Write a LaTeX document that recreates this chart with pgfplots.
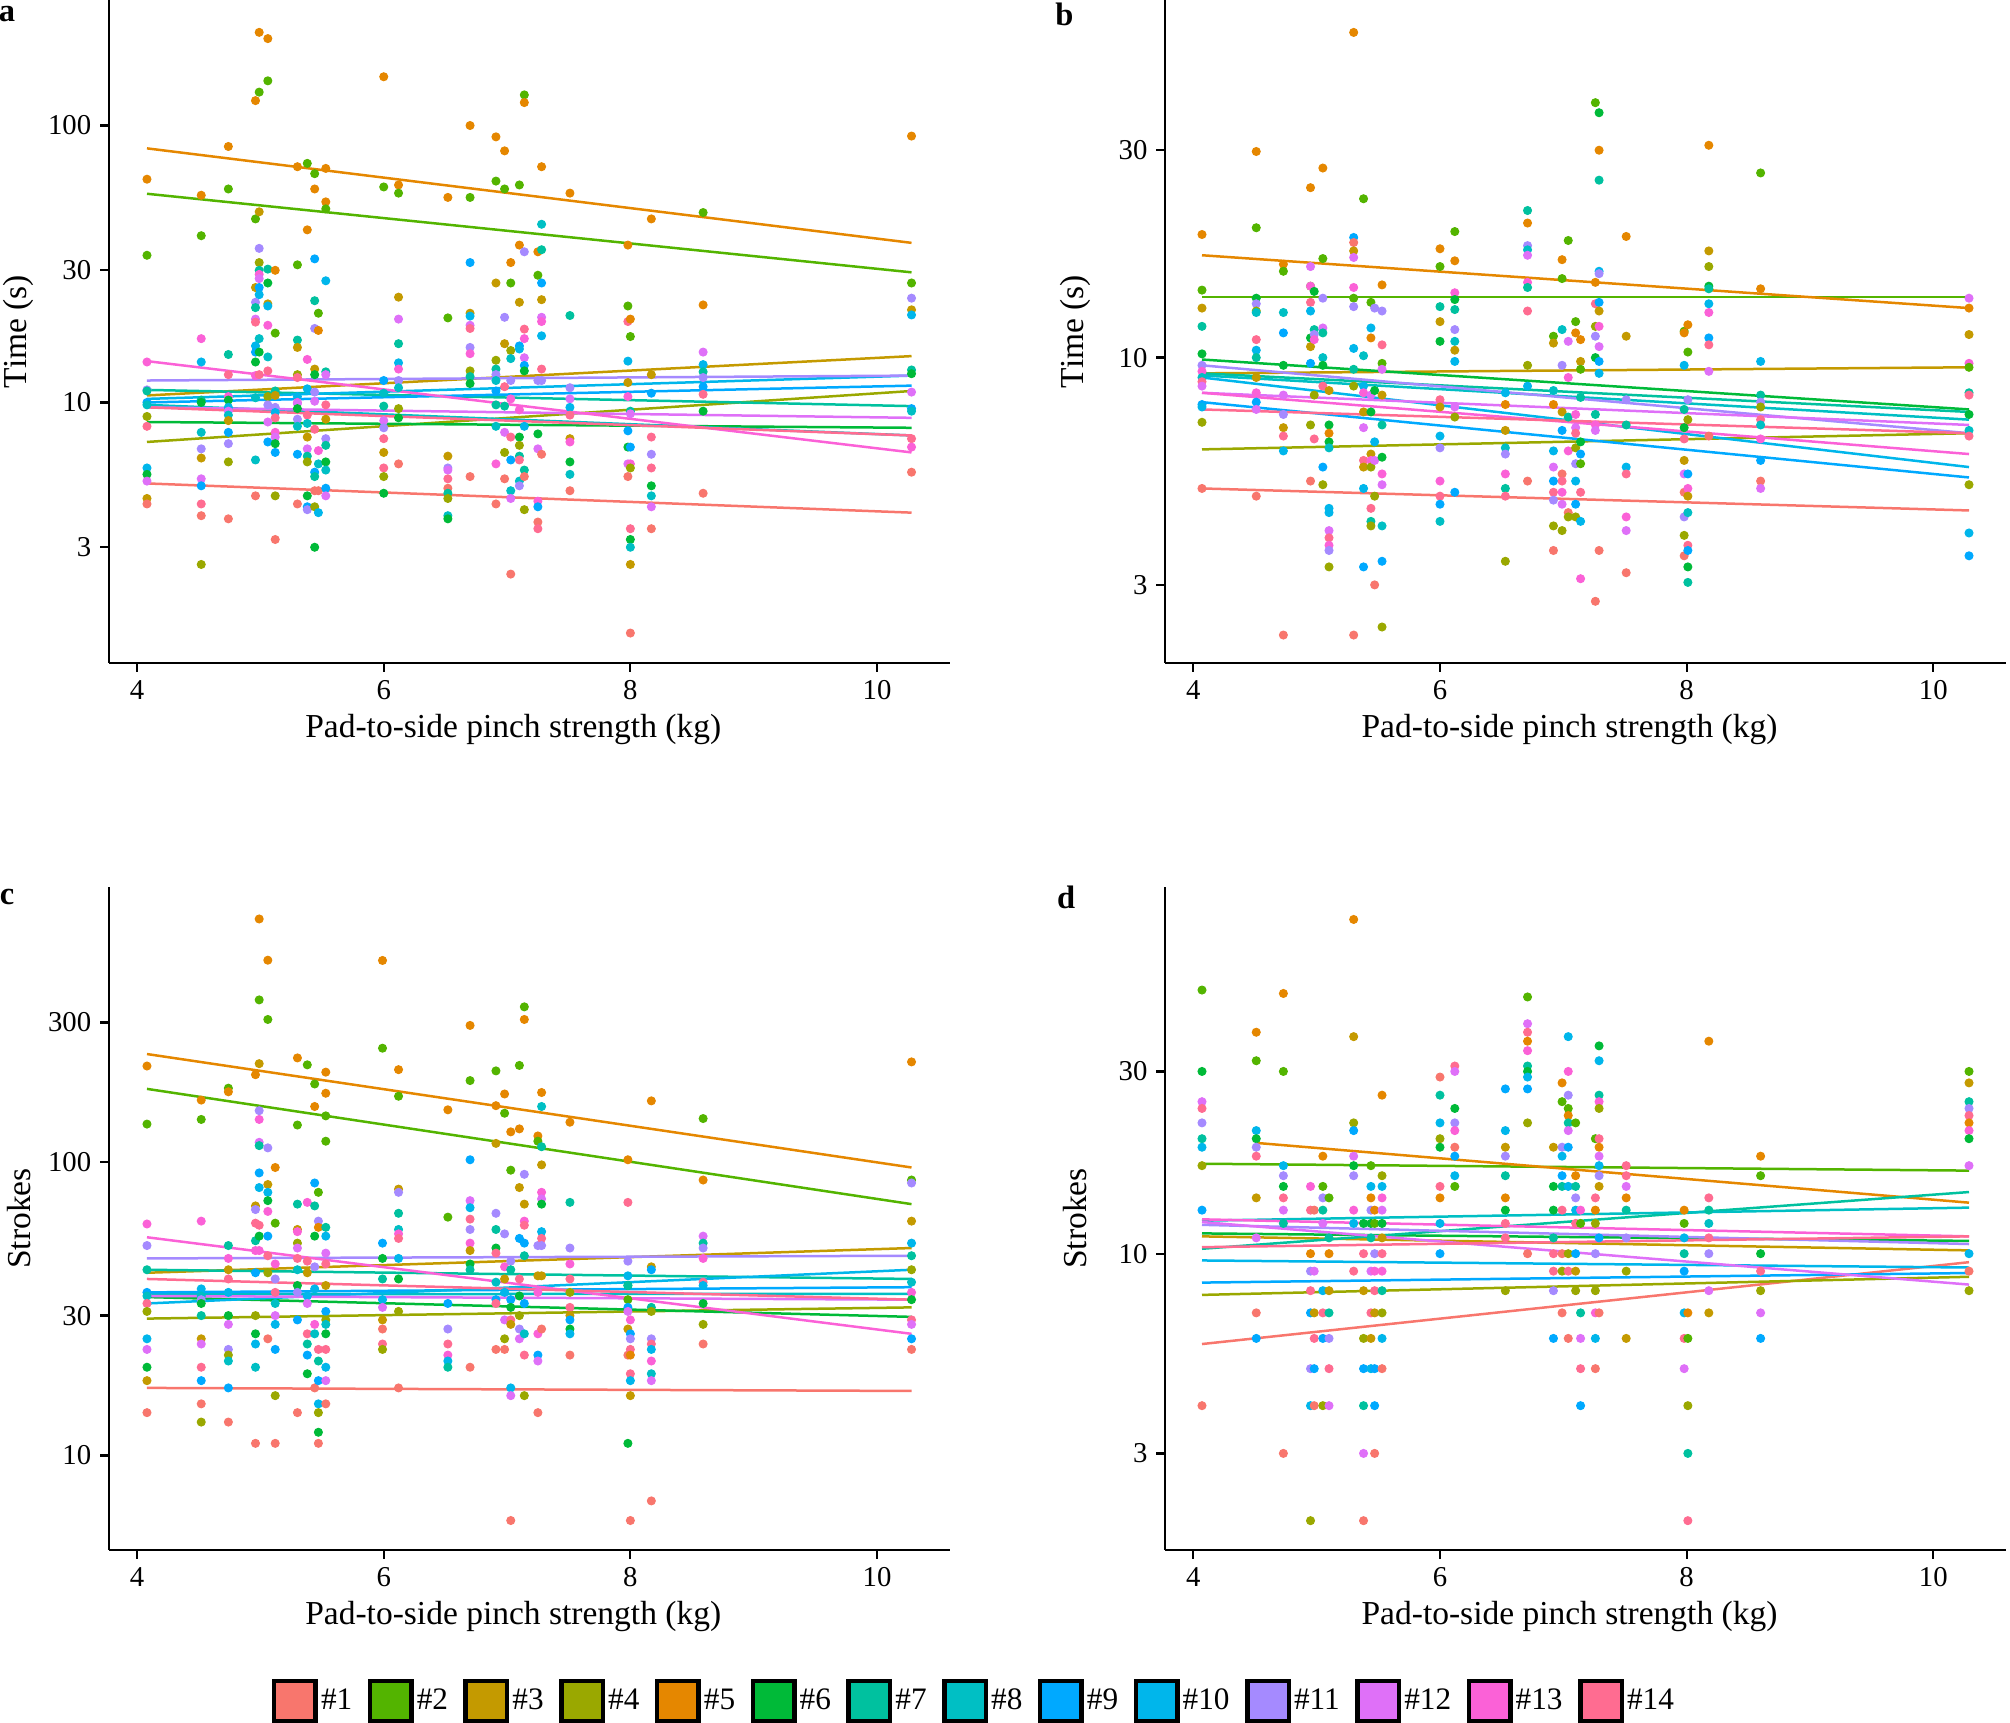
\documentclass[border=0pt]{standalone}
\usepackage{fontspec}
\setmainfont{Liberation Serif}
\usepackage{pgfplots}
\pgfplotsset{compat=1.18}
\definecolor{P1}{HTML}{F8766D}
\definecolor{P2}{HTML}{53B400}
\definecolor{P3}{HTML}{C49A00}
\definecolor{P4}{HTML}{9AA800}
\definecolor{P5}{HTML}{E58700}
\definecolor{P6}{HTML}{00BA38}
\definecolor{P7}{HTML}{00C19F}
\definecolor{P8}{HTML}{00BFC4}
\definecolor{P9}{HTML}{00A9FF}
\definecolor{P10}{HTML}{00B6EB}
\definecolor{P11}{HTML}{A58AFF}
\definecolor{P12}{HTML}{DF70F8}
\definecolor{P13}{HTML}{FB61D7}
\definecolor{P14}{HTML}{FF6C91}
\pgfplotsset{
  every axis/.append style={
    scale only axis, width=336.4pt, height=265.2pt,
    xmin=3.77, xmax=10.59,
    axis x line=bottom, axis y line=left,
    axis line style={-, line width=0.9pt, black},
    tick align=outside, major tick length=3.5pt,
    tick style={line width=0.9pt, black},
    yminorticks=false, xminorticks=false,
    xtick={4,6,8,10}, xticklabels={4,6,8,10},
    tick label style={font=\fontsize{11.5}{13}\selectfont},
    label style={font=\fontsize{13.4}{15}\selectfont},
    xlabel={Pad-to-side pinch strength (kg)},
    xlabel style={at={(axis description cs:0.481,-0.101)}, anchor=center},
    ylabel style={at={(axis description cs:-0.107,0.5)}, anchor=center},
    scatter/classes={a={P1},b={P2},c={P3},d={P4},e={P5},f={P6},g={P7},h={P8},i={P9},j={P10},k={P11},l={P12},m={P13},n={P14}},
  },
}
\newcommand{\legkey}[2]{\addlegendimage{legend image code/.code={\draw[fill=#1,draw=black,line width=1.8pt] (0pt,-8pt) rectangle (16.6pt,8pt);}}\addlegendentry{#2}}
\begin{document}
\begin{tikzpicture}
\useasboundingbox (0,0) rectangle (804pt,688.8pt);
% ---------------- panel a ----------------
\begin{axis}[ymode=log, at={(43.5pt,423.6pt)}, anchor=south west,
  ymin=1.146, ymax=284, ytick={3,10,30,100}, yticklabels={3,10,30,100}, ylabel={Time (s)}]
\addplot[scatter, only marks, mark=*, mark size=1.6pt, scatter src=explicit symbolic] table[row sep=\\, meta=c] {x y c\\
4.08 64 e\\ 4.08 34 b\\ 4.08 14 m\\ 4.08 11.1 k\\ 4.08 11 g\\ 4.08 10 i\\ 4.08 9.8 h\\ 4.08 8.9 d\\ 4.08 8.2 n\\ 4.08 5.8 j\\ 4.08 5.5 f\\ 4.08 5.2 l\\ 4.08 4.5 c\\ 4.08 4.3 a\\
4.52 56 e\\ 4.52 40 b\\ 4.52 17 m\\ 4.52 14 j\\ 4.52 10.2 g\\ 4.52 10 f\\ 4.52 7.8 h\\ 4.52 6.8 k\\ 4.52 6.3 c\\ 4.52 5.3 l\\ 4.52 5.0 i\\ 4.52 4.3 n\\ 4.52 3.9 a\\ 4.52 2.6 d\\
4.74 84 e\\ 4.74 59 b\\ 4.74 14.9 g\\ 4.74 12.6 n\\ 4.74 10.5 m\\ 4.74 10.2 f\\ 4.74 9.6 j\\ 4.74 9.3 l\\ 4.74 9.0 h\\ 4.74 8.6 c\\ 4.74 7.8 i\\ 4.74 7.1 k\\ 4.74 6.1 d\\ 4.74 3.8 a\\
4.96 123 e\\ 4.96 46 b\\ 4.96 26 c\\ 4.96 23 k\\ 4.96 22 g\\ 4.96 20 l\\ 4.96 19.5 n\\ 4.96 16 j\\ 4.96 15.2 i\\ 4.96 14 f\\ 4.96 12.5 m\\ 4.96 10.4 h\\ 4.96 6.2 h\\ 4.96 4.6 a\\
4.99 217 e\\ 4.99 132 b\\ 4.99 48.8 c\\ 4.99 36 k\\ 4.99 32 d\\ 4.99 30 g\\ 4.99 29 m\\ 4.99 28 l\\ 4.99 26 i\\ 4.99 24.5 j\\ 4.99 17 h\\ 4.99 15.2 f\\ 4.99 12.6 n\\
5.06 206 e\\ 5.06 145 b\\ 5.06 30.3 g\\ 5.06 27 f\\ 5.06 22.7 c\\ 5.06 22.3 j\\ 5.06 19 m\\ 5.06 14.6 h\\ 5.06 13 n\\ 5.06 10.5 d\\ 5.06 9.8 k\\ 5.06 8.5 l\\ 5.06 7.2 i\\
5.12 30 e\\ 5.12 17.8 b\\ 5.12 11 g\\ 5.12 10.6 c\\ 5.12 9.6 k\\ 5.12 9.2 j\\ 5.12 8.8 n\\ 5.12 7.8 m\\ 5.12 7.5 l\\ 5.12 7.1 f\\ 5.12 6.6 i\\ 5.12 4.6 d\\ 5.12 3.2 a\\
5.30 71 e\\ 5.30 31.4 b\\ 5.30 16.8 g\\ 5.30 15.8 c\\ 5.30 12.6 d\\ 5.30 12.3 n\\ 5.30 10.5 j\\ 5.30 10.0 m\\ 5.30 9.9 l\\ 5.30 9.5 f\\ 5.30 8.7 k\\ 5.30 8.2 h\\ 5.30 6.5 i\\ 5.30 4.3 a\\
5.38 73 b\\ 5.38 42 e\\ 5.38 14.3 m\\ 5.38 11.2 j\\ 5.38 9.0 n\\ 5.38 8.4 h\\ 5.38 7.5 c\\ 5.38 6.8 l\\ 5.38 6.4 g\\ 5.38 6.1 d\\ 5.38 4.6 f\\ 5.38 4.2 i\\ 5.38 4.1 k\\
5.44 67 b\\ 5.44 59 e\\ 5.44 33 i\\ 5.44 23.3 g\\ 5.44 18.5 k\\ 5.44 13.2 c\\ 5.44 12.6 f\\ 5.44 10.9 k\\ 5.44 10.1 l\\ 5.44 8.0 n\\ 5.44 5.6 i\\ 5.44 5.4 g\\ 5.44 4.8 a\\ 5.44 4.2 d\\ 5.44 3.0 f\\
5.47 21 b\\ 5.47 18.2 e\\ 5.47 6.7 m\\ 5.47 6.0 h\\ 5.47 4.8 a\\ 5.47 4.0 j\\
5.53 70 e\\ 5.53 53 e\\ 5.53 50 b\\ 5.53 27.5 j\\ 5.53 12.9 g\\ 5.53 12.6 l\\ 5.53 9.8 n\\ 5.53 8.7 c\\ 5.53 7.4 k\\ 5.53 7.0 g\\ 5.53 6.1 f\\ 5.53 5.7 h\\ 5.53 4.9 i\\ 5.53 4.6 l\\
6.00 150 e\\ 6.00 60 b\\ 6.00 12 i\\ 6.00 10.8 h\\ 6.00 9.7 g\\ 6.00 8.6 l\\ 6.00 8.1 k\\ 6.00 7.4 n\\ 6.00 6.6 c\\ 6.00 5.8 n\\ 6.00 5.4 d\\ 6.00 4.7 f\\
6.12 61 e\\ 6.12 57 b\\ 6.12 24 c\\ 6.12 20 l\\ 6.12 16.3 g\\ 6.12 13.9 j\\ 6.12 13.2 m\\ 6.12 12 k\\ 6.12 11.3 h\\ 6.12 9.5 d\\ 6.12 8.8 f\\ 6.12 6.0 a\\
6.52 55 e\\ 6.52 20.2 b\\ 6.52 6.4 c\\ 6.52 5.8 k\\ 6.52 5.7 l\\ 6.52 5.3 n\\ 6.52 4.9 a\\ 6.52 4.7 g\\ 6.52 4.5 d\\ 6.52 3.9 h\\ 6.52 3.8 f\\
6.70 100 e\\ 6.70 55 b\\ 6.70 32 i\\ 6.70 21 c\\ 6.70 20.5 j\\ 6.70 19 l\\ 6.70 18.5 n\\ 6.70 15.8 k\\ 6.70 15 m\\ 6.70 13 d\\ 6.70 12.4 g\\ 6.70 11.7 f\\ 6.70 5.4 a\\
6.91 91 e\\ 6.91 63 b\\ 6.91 27 c\\ 6.91 14.2 d\\ 6.91 13.2 g\\ 6.91 12.6 k\\ 6.91 12 h\\ 6.91 11 i\\ 6.91 9.8 g\\ 6.91 8.2 h\\ 6.91 6 m\\ 6.91 4.3 a\\
6.98 81 e\\ 6.98 59 b\\ 6.98 20.3 k\\ 6.98 16.3 c\\ 6.98 11.4 n\\ 6.98 9.7 g\\ 6.98 7.8 l\\ 6.98 6.6 d\\ 6.98 5.3 a\\
7.03 32 e\\ 7.03 27 b\\ 7.03 15.4 d\\ 7.03 14.4 h\\ 7.03 12 k\\ 7.03 10.3 m\\ 7.03 7.5 n\\ 7.03 6.2 i\\ 7.03 4.8 h\\ 7.03 4.5 l\\ 7.03 2.4 a\\
7.10 61 b\\ 7.10 37 e\\ 7.10 23 c\\ 7.10 16 i\\ 7.10 15.6 j\\ 7.10 9.4 m\\ 7.10 7.5 f\\ 7.10 7.0 d\\ 7.10 6.4 g\\ 7.10 6.2 n\\ 7.10 5.2 h\\ 7.10 5.0 k\\
7.14 129 b\\ 7.14 121 e\\ 7.14 35 k\\ 7.14 18.4 n\\ 7.14 17 m\\ 7.14 14.5 l\\ 7.14 13.6 i\\ 7.14 13 f\\ 7.14 8.2 j\\ 7.14 5.7 g\\ 7.14 5.4 a\\ 7.14 4.1 d\\
7.25 35 e\\ 7.25 28.8 b\\ 7.25 12 k\\ 7.25 7.7 f\\ 7.25 6.8 l\\ 7.25 4.4 m\\ 7.25 4.2 i\\ 7.25 3.7 a\\ 7.25 3.5 n\\
7.28 71 e\\ 7.28 44 h\\ 7.28 35.6 g\\ 7.28 27 i\\ 7.28 23.5 c\\ 7.28 20.3 l\\ 7.28 19.6 m\\ 7.28 17.4 j\\ 7.28 13.2 n\\ 7.28 12 k\\ 7.28 6.5 a\\
7.51 57 e\\ 7.51 20.6 g\\ 7.51 11.3 k\\ 7.51 10.3 l\\ 7.51 9.6 j\\ 7.51 9.0 n\\ 7.51 7.4 c\\ 7.51 7.2 m\\ 7.51 6.1 f\\ 7.51 5.5 h\\ 7.51 4.8 a\\
7.98 37 e\\ 7.98 22.3 b\\ 7.98 19.6 n\\ 7.98 14.1 j\\ 7.98 11.8 c\\ 7.98 10.5 m\\ 7.98 7.9 i\\ 7.98 6.9 f\\ 7.98 6.0 l\\ 7.98 5.4 a\\
8.00 20 e\\ 8.00 17.3 b\\ 8.00 9.3 g\\ 8.00 9.1 l\\ 8.00 6.9 i\\ 8.00 6.0 m\\ 8.00 5.8 d\\ 8.00 3.5 n\\ 8.00 3.2 f\\ 8.00 3.0 h\\ 8.00 2.6 c\\ 8.00 1.47 a\\
8.17 46 e\\ 8.17 12.6 c\\ 8.17 10.8 i\\ 8.17 7.5 n\\ 8.17 6.5 k\\ 8.17 5.8 n\\ 8.17 5.0 f\\ 8.17 4.6 h\\ 8.17 4.2 l\\ 8.17 3.5 a\\
8.59 48.5 b\\ 8.59 22.5 e\\ 8.59 15.2 l\\ 8.59 13.7 j\\ 8.59 12.9 g\\ 8.59 12.3 k\\ 8.59 11.4 i\\ 8.59 10.7 n\\ 8.59 9.3 f\\ 8.59 4.7 a\\
10.28 91.6 e\\ 10.28 27 b\\ 10.28 23.8 k\\ 10.28 21.6 c\\ 10.28 20.7 j\\ 10.28 13.1 g\\ 10.28 12.7 f\\ 10.28 10.9 l\\ 10.28 9.5 i\\ 10.28 9.3 h\\ 10.28 7.4 n\\ 10.28 6.9 m\\ 10.28 5.6 a\\
};
\addplot[P1, no marks, line width=1pt] coordinates {(4.08,5.1) (10.28,4.0)};
\addplot[P2, no marks, line width=1pt] coordinates {(4.08,56.7) (10.28,29.5)};
\addplot[P3, no marks, line width=1pt] coordinates {(4.08,10.6) (10.28,14.7)};
\addplot[P4, no marks, line width=1pt] coordinates {(4.08,7.2) (10.28,11.0)};
\addplot[P5, no marks, line width=1pt] coordinates {(4.08,82.7) (10.28,37.7)};
\addplot[P6, no marks, line width=1pt] coordinates {(4.08,8.5) (10.28,8.1)};
\addplot[P7, no marks, line width=1pt] coordinates {(4.08,11.1) (10.28,9.7)};
\addplot[P8, no marks, line width=1pt] coordinates {(4.08,9.8) (10.28,7.6)};
\addplot[P9, no marks, line width=1pt] coordinates {(4.08,10.0) (10.28,11.5)};
\addplot[P10, no marks, line width=1pt] coordinates {(4.08,10.3) (10.28,12.5)};
\addplot[P11, no marks, line width=1pt] coordinates {(4.08,12.0) (10.28,12.5)};
\addplot[P12, no marks, line width=1pt] coordinates {(4.08,9.6) (10.28,8.8)};
\addplot[P13, no marks, line width=1pt] coordinates {(4.08,14.1) (10.28,6.6)};
\addplot[P14, no marks, line width=1pt] coordinates {(4.08,9.6) (10.28,7.6)};
\end{axis}
% ---------------- panel b ----------------
\begin{axis}[ymode=log, at={(466pt,423.6pt)}, anchor=south west,
  ymin=1.984, ymax=66.5, ytick={3,10,30}, yticklabels={3,10,30}, ylabel={Time (s)}]
\addplot[scatter, only marks, mark=*, mark size=1.6pt, scatter src=explicit symbolic] table[row sep=\\, meta=c] {x y c\\
4.07 19.2 e\\ 4.07 14.3 b\\ 4.07 13 c\\ 4.07 11.8 g\\ 4.07 10.2 f\\ 4.07 9.6 k\\ 4.07 9.3 m\\ 4.07 9.0 h\\ 4.07 8.8 n\\ 4.07 8.6 l\\ 4.07 7.8 i\\ 4.07 7.7 j\\ 4.07 7.1 d\\ 4.07 5.0 a\\
4.51 29.8 e\\ 4.51 19.9 b\\ 4.51 13.7 f\\ 4.51 13.3 k\\ 4.51 12.8 d\\ 4.51 12.7 h\\ 4.51 11 n\\ 4.51 10.4 j\\ 4.51 10 g\\ 4.51 9 c\\ 4.51 8.3 m\\ 4.51 7.9 i\\ 4.51 7.6 l\\ 4.51 4.8 a\\
4.73 16.4 e\\ 4.73 15.8 b\\ 4.73 12.7 h\\ 4.73 11.4 i\\ 4.73 9.6 f\\ 4.73 8.2 l\\ 4.73 7.4 k\\ 4.73 6.9 c\\ 4.73 6.6 n\\ 4.73 6.1 j\\ 4.73 2.3 a\\
4.95 24.6 e\\ 4.95 16.2 l\\ 4.95 14.6 b\\ 4.95 14.6 m\\ 4.95 13.4 n\\ 4.95 12.8 j\\ 4.95 11.1 f\\ 4.95 10.6 c\\ 4.95 9.7 i\\ 4.95 7.0 d\\ 4.95 5.2 a\\
4.98 14.2 f\\ 4.98 11.6 g\\ 4.98 11.3 k\\ 4.98 11.0 m\\ 4.98 8.2 d\\ 4.98 6.5 n\\
5.05 27.3 e\\ 5.05 16.9 b\\ 5.05 13.7 k\\ 5.05 11.7 l\\ 5.05 11.4 g\\ 5.05 10 h\\ 5.05 9.6 f\\ 5.05 8.6 n\\ 5.05 5.6 i\\ 5.05 5.1 d\\
5.10 8.4 c\\ 5.10 7 f\\ 5.10 6.7 e\\ 5.10 6.4 f\\ 5.10 6.2 h\\ 5.10 4.5 j\\ 5.10 4.4 j\\ 5.10 4.0 l\\ 5.10 3.85 n\\ 5.10 3.7 m\\ 5.10 3.6 k\\ 5.10 3.3 d\\
5.30 56 e\\ 5.30 18.9 i\\ 5.30 18.4 a\\ 5.30 17.6 c\\ 5.30 17 l\\ 5.30 14.5 m\\ 5.30 13.7 b\\ 5.30 13.1 k\\ 5.30 10.5 j\\ 5.30 9.4 g\\ 5.30 8.6 d\\ 5.30 2.3 a\\
5.38 23.2 b\\ 5.38 10.1 h\\ 5.38 8.6 j\\ 5.38 8.3 m\\ 5.38 7.5 c\\ 5.38 6.9 l\\ 5.38 5.8 n\\ 5.38 5.6 c\\ 5.38 5.0 j\\ 5.38 3.3 i\\
5.44 13.4 b\\ 5.44 11.7 j\\ 5.44 11.1 e\\ 5.44 8.2 l\\ 5.44 7.5 f\\ 5.44 6.0 c\\ 5.44 5.8 m\\ 5.44 5.6 d\\ 5.44 4.5 n\\ 5.44 4.2 g\\ 5.44 4.1 d\\
5.47 13 k\\ 5.47 8.4 f\\ 5.47 6.4 j\\ 5.47 5.8 l\\ 5.47 4.8 d\\ 5.47 3.0 a\\
5.53 14.7 e\\ 5.53 12.8 k\\ 5.53 10.7 n\\ 5.53 9.7 b\\ 5.53 9.4 l\\ 5.53 8.2 c\\ 5.53 7 g\\ 5.53 5.9 f\\ 5.53 5.4 m\\ 5.53 5.1 l\\ 5.53 4.1 h\\ 5.53 3.4 i\\ 5.53 2.4 d\\
6.00 17.8 e\\ 6.00 16.2 b\\ 6.00 13.1 g\\ 6.00 12.1 c\\ 6.00 10.9 f\\ 6.00 8.0 n\\ 6.00 7.7 c\\ 6.00 6.6 j\\ 6.00 6.2 k\\ 6.00 5.2 m\\ 6.00 4.8 n\\ 6.00 4.6 i\\ 6.00 4.2 h\\
6.12 19.5 b\\ 6.12 16.7 e\\ 6.12 14.1 m\\ 6.12 13.6 f\\ 6.12 12.9 g\\ 6.12 11.6 k\\ 6.12 10.9 h\\ 6.12 10.4 c\\ 6.12 9.8 j\\ 6.12 7.7 l\\ 6.12 7.3 d\\ 6.12 4.9 i\\
6.53 8.3 j\\ 6.53 7.8 e\\ 6.53 6.8 c\\ 6.53 6.2 h\\ 6.53 6.0 k\\ 6.53 5.4 m\\ 6.53 5.0 g\\ 6.53 4.8 n\\ 6.53 3.4 d\\
6.71 21.8 g\\ 6.71 20.4 e\\ 6.71 18.1 k\\ 6.71 17.7 h\\ 6.71 17.2 l\\ 6.71 14.9 m\\ 6.71 14.5 g\\ 6.71 12.8 n\\ 6.71 9.6 d\\ 6.71 8.6 j\\ 6.71 5.2 a\\
6.92 11.2 b\\ 6.92 10.8 c\\ 6.92 8.4 h\\ 6.92 7.8 e\\ 6.92 6.1 j\\ 6.92 5.6 l\\ 6.92 5.2 i\\ 6.92 4.9 n\\ 6.92 4.7 k\\ 6.92 4.1 d\\ 6.92 3.6 a\\
6.99 16.8 e\\ 6.99 15.2 b\\ 6.99 11.6 h\\ 6.99 9.6 k\\ 6.99 7.5 c\\ 6.99 6.8 i\\ 6.99 5.4 a\\ 6.99 5.2 n\\ 6.99 4.9 m\\ 6.99 4.6 l\\ 6.99 4.0 d\\
7.04 18.6 b\\ 7.04 10.9 l\\ 7.04 9.0 m\\ 7.04 7.3 g\\ 7.04 6.1 m\\ 7.04 4.4 a\\ 7.04 4.3 d\\
7.10 12.1 b\\ 7.10 11.4 e\\ 7.10 7.4 m\\ 7.10 6.9 l\\ 7.10 6.7 n\\ 7.10 6.2 d\\ 7.10 5.7 k\\ 7.10 5.2 j\\ 7.10 4.6 i\\ 7.10 4.3 d\\
7.14 11.0 e\\ 7.14 9.8 c\\ 7.14 9.4 b\\ 7.14 8.1 g\\ 7.14 6.4 f\\ 7.14 6.0 i\\ 7.14 5.7 b\\ 7.14 4.9 n\\ 7.14 4.2 j\\ 7.14 3.1 m\\
7.26 38.6 b\\ 7.26 14.9 e\\ 7.26 13.3 n\\ 7.26 11.8 d\\ 7.26 11.2 k\\ 7.26 10 f\\ 7.26 7.4 g\\ 7.26 7 m\\ 7.26 6.8 l\\ 7.26 2.75 a\\
7.29 36.6 f\\ 7.29 30 e\\ 7.29 25.6 g\\ 7.29 15.8 j\\ 7.29 15.6 k\\ 7.29 13.4 i\\ 7.29 12.8 c\\ 7.29 11.8 m\\ 7.29 10.6 l\\ 7.29 9.8 i\\ 7.29 9.2 j\\ 7.29 3.6 a\\
7.51 19 e\\ 7.51 11.2 c\\ 7.51 8 k\\ 7.51 7 g\\ 7.51 5.6 j\\ 7.51 5.4 n\\ 7.51 4.3 m\\ 7.51 4.0 l\\ 7.51 3.2 a\\
7.98 11.5 b\\ 7.98 11.4 e\\ 7.98 9.6 j\\ 7.98 7.6 g\\ 7.98 6.9 f\\ 7.98 6.5 n\\ 7.98 5.8 c\\ 7.98 5.4 l\\ 7.98 4.9 a\\ 7.98 4.3 k\\ 7.98 3.9 d\\ 7.98 3.5 a\\
8.01 11.9 e\\ 8.01 10.3 b\\ 8.01 8.0 k\\ 8.01 7.2 d\\ 8.01 5.4 i\\ 8.01 5.0 m\\ 8.01 4.8 c\\ 8.01 4.4 h\\ 8.01 3.7 n\\ 8.01 3.6 i\\ 8.01 3.3 f\\ 8.01 3.04 g\\
8.18 30.8 e\\ 8.18 17.6 c\\ 8.18 16.2 d\\ 8.18 14.6 f\\ 8.18 14.4 g\\ 8.18 13.3 j\\ 8.18 12.7 m\\ 8.18 11.1 i\\ 8.18 10.7 n\\ 8.18 9.3 l\\ 8.18 6.6 a\\
8.60 26.6 b\\ 8.60 14.4 e\\ 8.60 9.8 j\\ 8.60 8.2 g\\ 8.60 7.9 k\\ 8.60 7.7 d\\ 8.60 7.2 n\\ 8.60 7.0 h\\ 8.60 6.5 m\\ 8.60 5.8 i\\ 8.60 5.2 a\\ 8.60 5.0 l\\
10.29 13.7 l\\ 10.29 13 e\\ 10.29 11.3 c\\ 10.29 9.7 m\\ 10.29 9.5 b\\ 10.29 8.3 g\\ 10.29 8.2 n\\ 10.29 7.4 f\\ 10.29 6.8 h\\ 10.29 6.6 n\\ 10.29 5.1 d\\ 10.29 3.95 j\\ 10.29 3.5 i\\
};
\addplot[P1, no marks, line width=1pt] coordinates {(4.07,5.0) (10.29,4.45)};
\addplot[P2, no marks, line width=1pt] coordinates {(4.07,13.8) (10.29,13.8)};
\addplot[P3, no marks, line width=1pt] coordinates {(4.07,9.2) (10.29,9.5)};
\addplot[P4, no marks, line width=1pt] coordinates {(4.07,6.15) (10.29,6.7)};
\addplot[P5, no marks, line width=1pt] coordinates {(4.07,17.2) (10.29,13.0)};
\addplot[P6, no marks, line width=1pt] coordinates {(4.07,9.9) (10.29,7.6)};
\addplot[P7, no marks, line width=1pt] coordinates {(4.07,9.2) (10.29,7.5)};
\addplot[P8, no marks, line width=1pt] coordinates {(4.07,9.1) (10.29,7.2)};
\addplot[P9, no marks, line width=1pt] coordinates {(4.07,7.9) (10.29,5.3)};
\addplot[P10, no marks, line width=1pt] coordinates {(4.07,9.0) (10.29,5.6)};
\addplot[P11, no marks, line width=1pt] coordinates {(4.07,9.6) (10.29,6.7)};
\addplot[P12, no marks, line width=1pt] coordinates {(4.07,8.3) (10.29,7.0)};
\addplot[P13, no marks, line width=1pt] coordinates {(4.07,8.3) (10.29,6.0)};
\addplot[P14, no marks, line width=1pt] coordinates {(4.07,7.6) (10.29,6.7)};
\end{axis}
% ---------------- panel c ----------------
\begin{axis}[ymode=log, at={(43.5pt,68.8pt)}, anchor=south west,
  ymin=4.76, ymax=869, ytick={10,30,100,300}, yticklabels={10,30,100,300}, ylabel={Strokes},
  legend columns=14,
  legend style={at={(axis description cs:1.0294,-0.2278)}, anchor=center, draw=none, fill=none,
    font=\fontsize{12.5}{14}\selectfont, column sep=0pt,
    /tikz/every even column/.append style={column sep=5pt},
    nodes={inner xsep=1.2pt, inner ysep=0pt}},
  legend cell align=left]
\legkey{P1}{\#1}\legkey{P2}{\#2}\legkey{P3}{\#3}\legkey{P4}{\#4}\legkey{P5}{\#5}\legkey{P6}{\#6}\legkey{P7}{\#7}
\legkey{P8}{\#8}\legkey{P9}{\#9}\legkey{P10}{\#10}\legkey{P11}{\#11}\legkey{P12}{\#12}\legkey{P13}{\#13}\legkey{P14}{\#14}
\addplot[scatter, only marks, mark=*, mark size=1.6pt, scatter src=explicit symbolic, forget plot] table[row sep=\\, meta=c] {x y c\\
4.08 213 e\\ 4.08 135 b\\ 4.08 61.6 m\\ 4.08 52 k\\ 4.08 43 g\\ 4.08 36 i\\ 4.08 35 h\\ 4.08 33 n\\ 4.08 31 d\\ 4.08 25 j\\ 4.08 23 l\\ 4.08 20 f\\ 4.08 18 c\\ 4.08 14 a\\
4.52 163 e\\ 4.52 140 b\\ 4.52 63 m\\ 4.52 37 j\\ 4.52 35 h\\ 4.52 34 k\\ 4.52 33 f\\ 4.52 30 g\\ 4.52 25 c\\ 4.52 24 l\\ 4.52 20 n\\ 4.52 18 i\\ 4.52 15 a\\ 4.52 13 d\\
4.74 179 b\\ 4.74 174 e\\ 4.74 52 g\\ 4.74 47 m\\ 4.74 43 c\\ 4.74 40 n\\ 4.74 36 j\\ 4.74 30 f\\ 4.74 28 l\\ 4.74 23 k\\ 4.74 22 d\\ 4.74 21 h\\ 4.74 17 i\\ 4.74 13 a\\
4.96 199 e\\ 4.96 71 c\\ 4.96 69 k\\ 4.96 62 n\\ 4.96 54 g\\ 4.96 50 m\\ 4.96 42 i\\ 4.96 30 d\\ 4.96 26 f\\ 4.96 24 j\\ 4.96 20 h\\ 4.96 11 a\\
4.99 676 e\\ 4.99 358 b\\ 4.99 217 c\\ 4.99 150 k\\ 4.99 140 m\\ 4.99 117 l\\ 4.99 114 g\\ 4.99 92 i\\ 4.99 82 j\\ 4.99 61 n\\ 4.99 56 f\\ 4.99 50 m\\
5.06 489 e\\ 5.06 307 b\\ 5.06 112 k\\ 5.06 84 c\\ 5.06 79 j\\ 5.06 74 f\\ 5.06 68 m\\ 5.06 56 i\\ 5.06 48 n\\ 5.06 42 d\\ 5.06 25 a\\
5.12 96 e\\ 5.12 62 b\\ 5.12 45 m\\ 5.12 40 k\\ 5.12 36 n\\ 5.12 33 h\\ 5.12 30 l\\ 5.12 28 j\\ 5.12 23 i\\ 5.12 16 d\\ 5.12 11 a\\
5.30 227 e\\ 5.30 134 b\\ 5.30 72 g\\ 5.30 59 c\\ 5.30 58 m\\ 5.30 53 d\\ 5.30 51 l\\ 5.30 47 n\\ 5.30 43 h\\ 5.30 38 f\\ 5.30 36 k\\ 5.30 29 i\\ 5.30 14 a\\
5.38 215 b\\ 5.38 73 m\\ 5.38 46 n\\ 5.38 42 c\\ 5.38 35 j\\ 5.38 33 l\\ 5.38 26 n\\ 5.38 24 g\\ 5.38 22 i\\ 5.38 19 f\\
5.44 185 b\\ 5.44 155 e\\ 5.44 85 i\\ 5.44 71 g\\ 5.44 56 f\\ 5.44 44 k\\ 5.44 37 j\\ 5.44 28 m\\ 5.44 26 h\\ 5.44 17 a\\
5.47 79 b\\ 5.47 63 k\\ 5.47 60 e\\ 5.47 23 n\\ 5.47 21 g\\ 5.47 18 i\\ 5.47 15 j\\ 5.47 14 d\\ 5.47 12 f\\ 5.47 11 a\\
5.53 203 e\\ 5.53 172 e\\ 5.53 144 b\\ 5.53 118 b\\ 5.53 60 g\\ 5.53 56 j\\ 5.53 49 l\\ 5.53 45 n\\ 5.53 38 c\\ 5.53 31 i\\ 5.53 29 d\\ 5.53 28 h\\ 5.53 26 f\\ 5.53 23 n\\ 5.53 20 j\\ 5.53 18 l\\ 5.53 15 a\\
5.99 488 e\\ 5.99 245 b\\ 5.99 53 i\\ 5.99 47 f\\ 5.99 40 g\\ 5.99 34 j\\ 5.99 32 l\\ 5.99 29 c\\ 5.99 27 a\\ 5.99 24 n\\ 5.99 23 d\\
6.12 207 e\\ 6.12 168 b\\ 6.12 81 c\\ 6.12 79 k\\ 6.12 67 g\\ 6.12 59 h\\ 6.12 57 m\\ 6.12 55 n\\ 6.12 47 j\\ 6.12 40 f\\ 6.12 31 d\\ 6.12 17 a\\
6.52 151 e\\ 6.52 65 b\\ 6.52 33 i\\ 6.52 27 k\\ 6.52 24 n\\ 6.52 22 m\\ 6.52 21 j\\ 6.52 20 g\\
6.70 293 e\\ 6.70 190 b\\ 6.70 102 i\\ 6.70 74 l\\ 6.70 70 j\\ 6.70 64 n\\ 6.70 59 k\\ 6.70 53 m\\ 6.70 50 c\\ 6.70 45 f\\ 6.70 43 g\\ 6.70 20 a\\
6.91 205 b\\ 6.91 156 e\\ 6.91 116 c\\ 6.91 67 k\\ 6.91 59 g\\ 6.91 51 f\\ 6.91 49 n\\ 6.91 39 h\\ 6.91 34 i\\ 6.91 33 n\\ 6.91 23 a\\
6.98 171 e\\ 6.98 147 b\\ 6.98 57 k\\ 6.98 44 m\\ 6.98 40 c\\ 6.98 36 j\\ 6.98 29 l\\ 6.98 25 d\\ 6.98 23 a\\
7.03 127 e\\ 7.03 94 b\\ 7.03 46 k\\ 7.03 43 g\\ 7.03 34 i\\ 7.03 32 f\\ 7.03 29 n\\ 7.03 28 c\\ 7.03 17 j\\ 7.03 16 l\\ 7.03 6 a\\
7.10 214 b\\ 7.10 130 e\\ 7.10 82 c\\ 7.10 55 i\\ 7.10 40 n\\ 7.10 35 f\\ 7.10 30 d\\ 7.10 27 k\\ 7.10 25 l\\
7.14 339 b\\ 7.14 307 e\\ 7.14 91 k\\ 7.14 72 c\\ 7.14 63 m\\ 7.14 61 n\\ 7.14 53 i\\ 7.14 48 g\\ 7.14 33 i\\ 7.14 26 h\\ 7.14 22 n\\ 7.14 16 d\\
7.25 123 e\\ 7.25 118 b\\ 7.25 52 k\\ 7.25 41 c\\ 7.25 36 m\\ 7.25 26 m\\ 7.25 22 i\\ 7.25 21 l\\ 7.25 14 a\\
7.28 173 e\\ 7.28 155 h\\ 7.28 113 g\\ 7.28 98 c\\ 7.28 79 m\\ 7.28 75 l\\ 7.28 72 f\\ 7.28 58 j\\ 7.28 55 n\\ 7.28 52 k\\ 7.28 41 c\\ 7.28 27 a\\
7.51 137 e\\ 7.51 73 g\\ 7.51 51 k\\ 7.51 45 m\\ 7.51 40 n\\ 7.51 36 d\\ 7.51 32 n\\ 7.51 30 c\\ 7.51 29 i\\ 7.51 27 f\\ 7.51 26 j\\ 7.51 22 a\\
7.98 102 e\\ 7.98 73 n\\ 7.98 46 k\\ 7.98 41 j\\ 7.98 38 f\\ 7.98 38 g\\ 7.98 34 b\\ 7.98 32 i\\ 7.98 31 l\\ 7.98 27 c\\ 7.98 22 a\\ 7.98 11 f\\
8.00 29 m\\ 8.00 26 i\\ 8.00 25 k\\ 8.00 23 n\\ 8.00 22 e\\ 8.00 19 n\\ 8.00 18 j\\ 8.00 16 c\\ 8.00 6 a\\
8.17 162 e\\ 8.17 44 c\\ 8.17 43 i\\ 8.17 32 g\\ 8.17 31 d\\ 8.17 25 k\\ 8.17 24 n\\ 8.17 23 j\\ 8.17 21 m\\ 8.17 19 h\\ 8.17 18 l\\ 8.17 7 a\\
8.59 141 b\\ 8.59 87 e\\ 8.59 56 l\\ 8.59 53 g\\ 8.59 51 k\\ 8.59 47 m\\ 8.59 39 n\\ 8.59 38 j\\ 8.59 33 f\\ 8.59 28 d\\ 8.59 24 a\\
10.28 220 e\\ 10.28 87 b\\ 10.28 85 k\\ 10.28 63 c\\ 10.28 53 j\\ 10.28 48 g\\ 10.28 43 d\\ 10.28 39 h\\ 10.28 36 m\\ 10.28 34 f\\ 10.28 29 n\\ 10.28 28 l\\ 10.28 25 i\\ 10.28 23 a\\
};
\addplot[P1, no marks, line width=1pt, forget plot] coordinates {(4.08,17) (10.28,16.6)};
\addplot[P2, no marks, line width=1pt, forget plot] coordinates {(4.08,178) (10.28,72)};
\addplot[P3, no marks, line width=1pt, forget plot] coordinates {(4.08,42) (10.28,51)};
\addplot[P4, no marks, line width=1pt, forget plot] coordinates {(4.08,29.3) (10.28,32)};
\addplot[P5, no marks, line width=1pt, forget plot] coordinates {(4.08,234) (10.28,96)};
\addplot[P6, no marks, line width=1pt, forget plot] coordinates {(4.08,34.7) (10.28,29.7)};
\addplot[P7, no marks, line width=1pt, forget plot] coordinates {(4.08,43) (10.28,40)};
\addplot[P8, no marks, line width=1pt, forget plot] coordinates {(4.08,35.5) (10.28,35.6)};
\addplot[P9, no marks, line width=1pt, forget plot] coordinates {(4.08,36) (10.28,37.5)};
\addplot[P10, no marks, line width=1pt, forget plot] coordinates {(4.08,33) (10.28,43)};
\addplot[P11, no marks, line width=1pt, forget plot] coordinates {(4.08,47) (10.28,48)};
\addplot[P12, no marks, line width=1pt, forget plot] coordinates {(4.08,35) (10.28,34)};
\addplot[P13, no marks, line width=1pt, forget plot] coordinates {(4.08,55.5) (10.28,26)};
\addplot[P14, no marks, line width=1pt, forget plot] coordinates {(4.08,40) (10.28,34)};
\end{axis}
% ---------------- panel d ----------------
\begin{axis}[ymode=log, at={(466pt,68.8pt)}, anchor=south west,
  ymin=1.676, ymax=91.2, ytick={3,10,30}, yticklabels={3,10,30}, ylabel={Strokes}]
\addplot[scatter, only marks, mark=*, mark size=1.6pt, scatter src=explicit symbolic] table[row sep=\\, meta=c] {x y c\\
4.07 49 b\\ 4.07 30 f\\ 4.07 25 l\\ 4.07 24 n\\ 4.07 22 k\\ 4.07 20 g\\ 4.07 19 j\\ 4.07 17 d\\ 4.07 13 i\\ 4.07 4 a\\
4.51 38 e\\ 4.51 32 b\\ 4.51 21 j\\ 4.51 20 f\\ 4.51 19 k\\ 4.51 18 n\\ 4.51 14 c\\ 4.51 11 l\\ 4.51 7 a\\ 4.51 6 i\\
4.73 48 e\\ 4.73 30 b\\ 4.73 17 j\\ 4.73 16 k\\ 4.73 15 f\\ 4.73 14 n\\ 4.73 13 l\\ 4.73 12 g\\ 4.73 3 a\\
4.95 15 m\\ 4.95 13 n\\ 4.95 10 e\\ 4.95 9 k\\ 4.95 8 n\\ 4.95 7 i\\ 4.95 5 k\\ 4.95 4 j\\ 4.95 2 d\\
4.98 13 a\\ 4.98 9 l\\ 4.98 7 c\\ 4.98 6 n\\ 4.98 5 i\\ 4.98 4 a\\
5.05 18 e\\ 5.05 15 b\\ 5.05 14 k\\ 5.05 13 g\\ 5.05 12 l\\ 5.05 8 j\\ 5.05 7 n\\ 5.05 6 i\\ 5.05 4 d\\
5.10 14 b\\ 5.10 11 g\\ 5.10 10 e\\ 5.10 8 c\\ 5.10 7 g\\ 5.10 6 k\\ 5.10 5 n\\ 5.10 4 l\\
5.30 75 e\\ 5.30 37 c\\ 5.30 22 d\\ 5.30 21 i\\ 5.30 18 l\\ 5.30 17 f\\ 5.30 16 k\\ 5.30 13 m\\ 5.30 12 j\\ 5.30 9 n\\
5.38 12 f\\ 5.38 10 n\\ 5.38 8 c\\ 5.38 6 d\\ 5.38 5 i\\ 5.38 4 g\\ 5.38 3 l\\ 5.38 2 a\\
5.44 17 b\\ 5.44 15 j\\ 5.44 14 e\\ 5.44 13 k\\ 5.44 12 f\\ 5.44 11 g\\ 5.44 9 l\\ 5.44 7 n\\ 5.44 6 c\\ 5.44 5 j\\
5.47 13 e\\ 5.47 12 b\\ 5.47 10 k\\ 5.47 9 m\\ 5.47 8 n\\ 5.47 7 c\\ 5.47 5 i\\ 5.47 4 i\\ 5.47 3 a\\
5.53 26 e\\ 5.53 16 d\\ 5.53 15 j\\ 5.53 14 m\\ 5.53 13 l\\ 5.53 12 f\\ 5.53 11 c\\ 5.53 10 n\\ 5.53 9 m\\ 5.53 8 g\\ 5.53 7 d\\ 5.53 6 j\\ 5.53 5 a\\
6.00 29 a\\ 6.00 26 g\\ 6.00 22 j\\ 6.00 20 d\\ 6.00 19 f\\ 6.00 15 n\\ 6.00 14 e\\ 6.00 12 j\\ 6.00 10 i\\
6.12 31 n\\ 6.12 30 l\\ 6.12 24 f\\ 6.12 22 k\\ 6.12 21 m\\ 6.12 19 a\\ 6.12 18 i\\ 6.12 16 j\\ 6.12 15 b\\
6.53 27 i\\ 6.53 21 j\\ 6.53 19 c\\ 6.53 18 k\\ 6.53 16 g\\ 6.53 14 e\\ 6.53 13 f\\ 6.53 12 n\\ 6.53 11 n\\ 6.53 8 d\\
6.71 47 b\\ 6.71 40 l\\ 6.71 38 n\\ 6.71 36 e\\ 6.71 34 m\\ 6.71 31 g\\ 6.71 30 f\\ 6.71 29 j\\ 6.71 27 i\\ 6.71 22 d\\ 6.71 10 a\\
6.92 19 c\\ 6.92 15 f\\ 6.92 13 f\\ 6.92 11 g\\ 6.92 10 n\\ 6.92 9 n\\ 6.92 8 k\\ 6.92 6 i\\
6.99 28 e\\ 6.99 25 b\\ 6.99 19 k\\ 6.99 18 j\\ 6.99 16 i\\ 6.99 15 g\\ 6.99 13 n\\ 6.99 10 a\\ 6.99 9 d\\ 6.99 7 a\\
7.04 37 j\\ 7.04 30 m\\ 7.04 26 k\\ 7.04 24 b\\ 7.04 23 e\\ 7.04 22 g\\ 7.04 21 l\\ 7.04 19 i\\ 7.04 15 j\\ 7.04 10 d\\ 7.04 9 n\\ 7.04 6 a\\
7.10 22 b\\ 7.10 16 e\\ 7.10 15 g\\ 7.10 14 k\\ 7.10 13 j\\ 7.10 12 n\\ 7.10 10 i\\ 7.10 9 c\\ 7.10 8 d\\
7.14 13 m\\ 7.14 12 b\\ 7.14 7 g\\ 7.14 6 l\\ 7.14 5 n\\ 7.14 4 i\\
7.26 20 b\\ 7.26 14 n\\ 7.26 13 e\\ 7.26 12 d\\ 7.26 10 k\\ 7.26 8 d\\ 7.26 7 m\\ 7.26 6 j\\ 7.26 5 a\\
7.29 35 f\\ 7.29 32 j\\ 7.29 26 g\\ 7.29 25 m\\ 7.29 24 d\\ 7.29 20 n\\ 7.29 19 e\\ 7.29 18 l\\ 7.29 17 j\\ 7.29 16 k\\ 7.29 15 c\\ 7.29 11 i\\ 7.29 7 a\\
7.51 17 n\\ 7.51 16 n\\ 7.51 15 l\\ 7.51 14 e\\ 7.51 13 g\\ 7.51 11 k\\ 7.51 9 d\\ 7.51 6 c\\
7.98 13 e\\ 7.98 12 b\\ 7.98 11 j\\ 7.98 10 g\\ 7.98 9 i\\ 7.98 7 j\\ 7.98 6 n\\ 7.98 5 l\\
8.01 7 e\\ 8.01 6 b\\ 8.01 4 d\\ 8.01 3 g\\ 8.01 2 n\\
8.18 36 e\\ 8.18 14 n\\ 8.18 13 g\\ 8.18 12 h\\ 8.18 11 n\\ 8.18 10 k\\ 8.18 8 l\\ 8.18 7 c\\
8.60 18 e\\ 8.60 16 b\\ 8.60 10 f\\ 8.60 9 n\\ 8.60 8 d\\ 8.60 7 l\\ 8.60 6 i\\
10.29 30 b\\ 10.29 28 c\\ 10.29 25 g\\ 10.29 24 k\\ 10.29 23 n\\ 10.29 22 e\\ 10.29 21 m\\ 10.29 20 f\\ 10.29 17 l\\ 10.29 10 j\\ 10.29 9 a\\ 10.29 8 d\\
};
\addplot[P1, no marks, line width=1pt] coordinates {(4.07,5.8) (10.29,9.5)};
\addplot[P2, no marks, line width=1pt] coordinates {(4.07,17.2) (10.29,16.5)};
\addplot[P3, no marks, line width=1pt] coordinates {(4.07,11.1) (10.29,10.2)};
\addplot[P4, no marks, line width=1pt] coordinates {(4.07,7.8) (10.29,8.7)};
\addplot[P5, no marks, line width=1pt] coordinates {(4.51,19.5) (10.29,13.6)};
\addplot[P6, no marks, line width=1pt] coordinates {(4.07,11.3) (10.29,10.8)};
\addplot[P7, no marks, line width=1pt] coordinates {(4.07,10.3) (10.29,14.5)};
\addplot[P8, no marks, line width=1pt] coordinates {(4.07,12.2) (10.29,13.2)};
\addplot[P9, no marks, line width=1pt] coordinates {(4.07,8.4) (10.29,8.9)};
\addplot[P10, no marks, line width=1pt] coordinates {(4.07,9.6) (10.29,9.2)};
\addplot[P11, no marks, line width=1pt] coordinates {(4.07,11.9) (10.29,10.6)};
\addplot[P12, no marks, line width=1pt] coordinates {(4.07,12.1) (10.29,8.3)};
\addplot[P13, no marks, line width=1pt] coordinates {(4.07,12.3) (10.29,11.1)};
\addplot[P14, no marks, line width=1pt] coordinates {(4.07,10.4) (10.29,11.1)};
\end{axis}
\node[font=\fontsize{13}{15}\selectfont\bfseries] at (2.8pt,683pt) {a};
\node[font=\fontsize{13}{15}\selectfont\bfseries] at (425.8pt,683pt) {b};
\node[font=\fontsize{13}{15}\selectfont\bfseries] at (2.8pt,330pt) {c};
\node[font=\fontsize{13}{15}\selectfont\bfseries] at (426.5pt,330pt) {d};
\end{tikzpicture}
\end{document}
